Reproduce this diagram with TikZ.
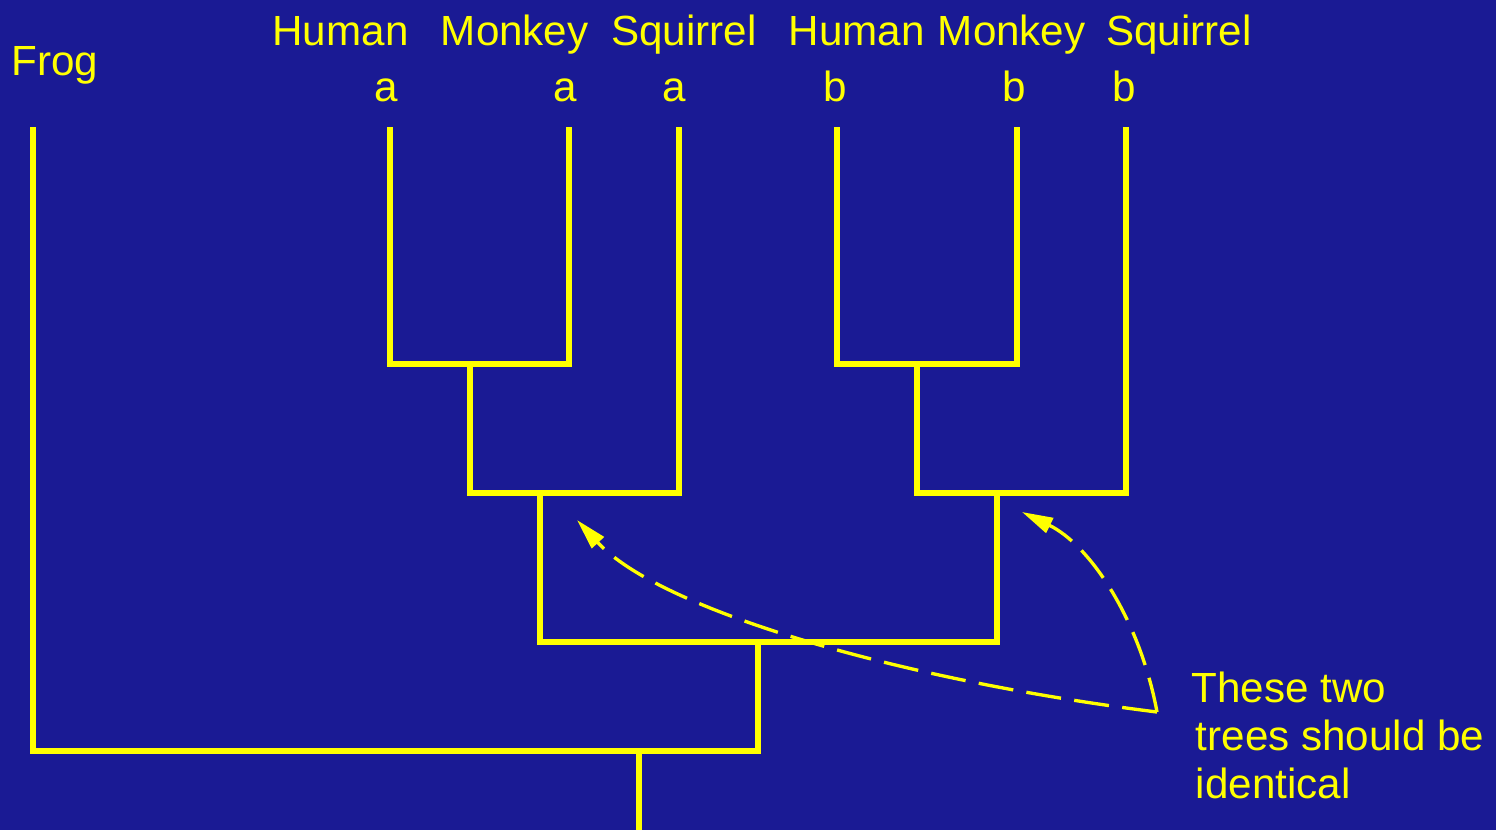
\documentclass[tikz,border=0pt]{standalone}
\usepackage{fontspec}
\setmainfont{Liberation Sans}
\usepackage{xcolor}
\definecolor{slideBlue}{HTML}{1A1A94}
\definecolor{treeYellow}{HTML}{FFFF00}
\usepackage{tikz}
\usetikzlibrary{positioning, arrows.meta}

\begin{document}
\begin{tikzpicture}[
  every node/.style={font=\fontsize{12}{13.6}\selectfont, text=treeYellow, inner sep=0pt},
  branch/.style={draw=treeYellow, line width=1.5pt},
  taxon/.style={anchor=base},
  hint/.style={draw=treeYellow, line width=0.95pt, dash pattern=on 10pt off 3.8pt,
               -{Triangle[length=8.8pt, width=4.6pt]}},
]

% Background
\fill[slideBlue] (0,0) rectangle (14.96,8.30);
\useasboundingbox (0,0) rectangle (14.96,8.30);

% Leaf tips
\coordinate (frog) at (0.33,7.03);
\coordinate (humA) at (3.90,7.03);
\coordinate (monA) at (5.69,7.03);
\coordinate (sqA)  at (6.79,7.03);
\coordinate (humB) at (8.37,7.03);
\coordinate (monB) at (10.17,7.03);
\coordinate (sqB)  at (11.26,7.03);

% Internal joins
\coordinate (hmA)  at (4.70,4.66);
\coordinate (hmsA) at (5.40,3.37);
\coordinate (hmB)  at (9.17,4.66);
\coordinate (hmsB) at (9.97,3.37);
\coordinate (pair) at (7.58,1.88);
\coordinate (root) at (6.39,0.79);
\coordinate (base) at (6.39,0.00);

% Tree a
\draw[branch] (humA) |- (hmA) -| (monA);
\draw[branch] (hmA) |- (hmsA) -| (sqA);
% Tree b
\draw[branch] (humB) |- (hmB) -| (monB);
\draw[branch] (hmB) |- (hmsB) -| (sqB);
% Joining both trees and the frog
\draw[branch] (hmsA) |- (pair) -| (hmsB);
\draw[branch] (pair) |- (root) -| (frog);
\draw[branch] (root) -- (base);

% Labels
\node[anchor=base west] (lblFrog) at (0.11,7.55) {Frog};
\node[taxon] (lblHumA) at (3.405,7.85) {Human};
\node[taxon] (lblMonA) at (5.147,7.85) {Monkey};
\node[taxon] (lblSqA)  at (6.84,7.85)  {Squirrel};
\node[taxon] (lblHumB) at (8.567,7.85) {Human};
\node[taxon] (lblMonB) at (10.117,7.85) {Monkey};
\node[taxon] (lblSqB)  at (11.79,7.85) {Squirrel};

\node[taxon] (tagHumA) at (3.86,7.29)  {a};
\node[taxon] (tagMonA) at (5.655,7.29) {a};
\node[taxon] (tagSqA)  at (6.74,7.29)  {a};
\node[taxon] (tagHumB) at (8.355,7.29) {b};
\node[taxon] (tagMonB) at (10.145,7.29) {b};
\node[taxon] (tagSqB)  at (11.24,7.29) {b};

% Note (base = last line)
\node[anchor=base west, align=left] (note) at (11.91,0.32)
      {These two\\\hspace{0.1em}trees should be\\\hspace{0.1em}identical};

% Dashed pointers
\coordinate (corner) at (11.57,1.18);
\coordinate (tipA) at (5.77,3.10);
\coordinate (tipB) at (10.22,3.18);
\draw[hint] (corner) .. controls (9.00,1.50) and (6.60,2.20) .. (tipA);
\draw[hint] (corner) .. controls (11.40,2.10) and (10.90,2.85) .. (tipB);

\end{tikzpicture}
\end{document}
